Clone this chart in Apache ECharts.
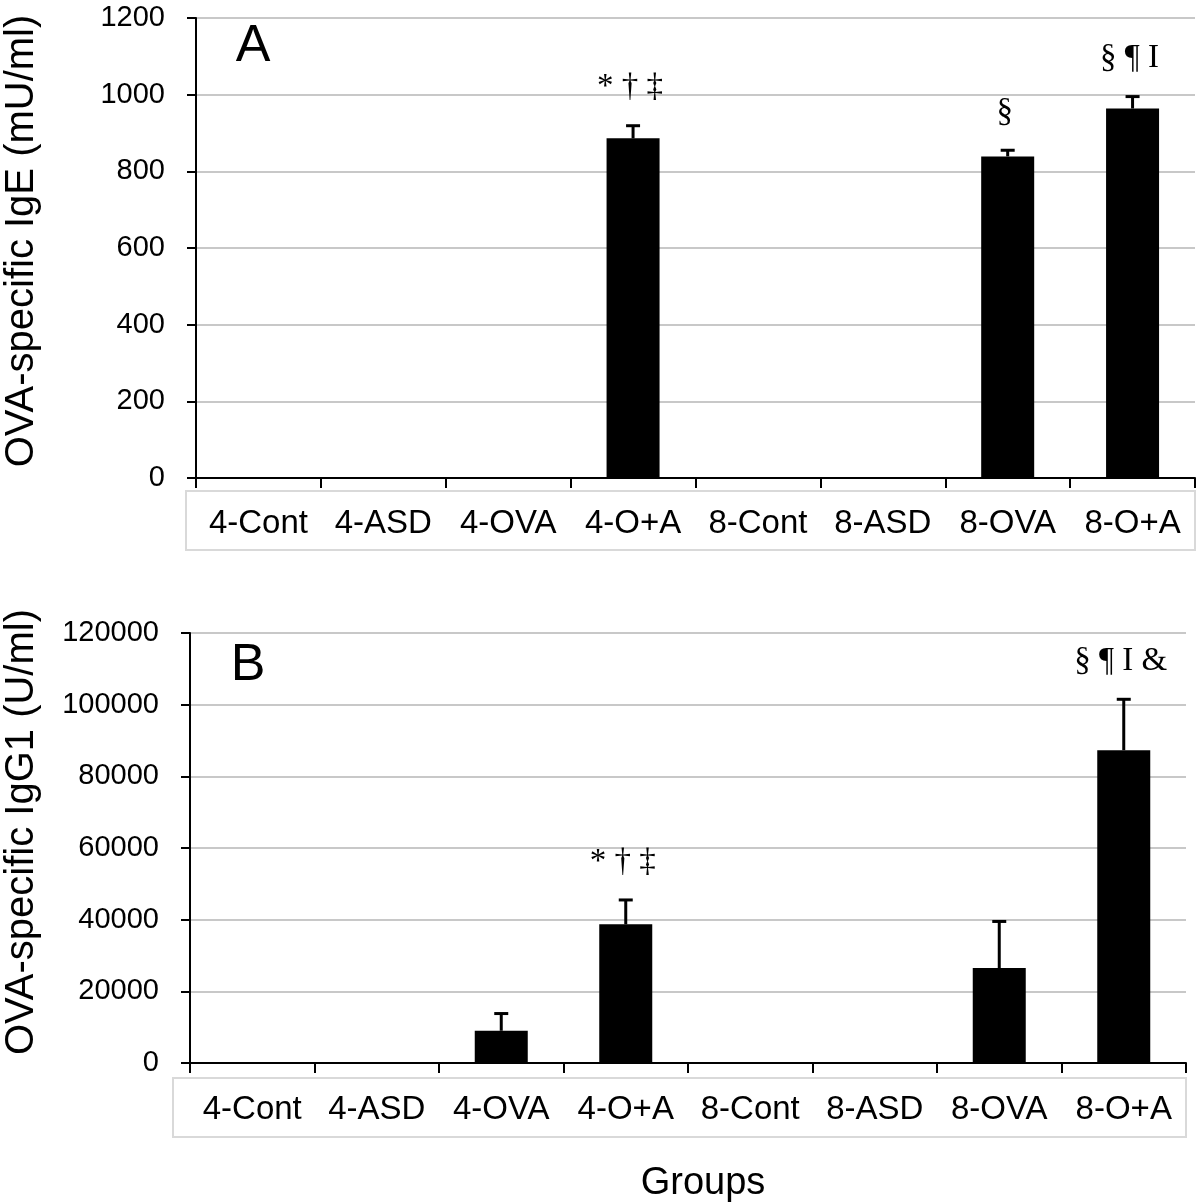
<!DOCTYPE html>
<html>
<head>
<meta charset="utf-8">
<script src="https://cdn.jsdelivr.net/npm/echarts@6/dist/echarts.min.js"></script>
<style>html,body{margin:0;padding:0;background:#fff}#c{width:1200px;height:1204px}</style>
</head>
<body>
<div id="c"></div>
<script>
const categories = ['4-Cont','4-ASD','4-OVA','4-O+A','8-Cont','8-ASD','8-OVA','8-O+A'];
const igeValues = [0,0,0,886,0,0,839,964];
const igeErrors = [0,0,0,33,0,0,16,31];
const igeMarks = ['','','','* \u2020 \u2021','','','\u00a7','\u00a7 \u00b6 I'];
const igg1Values = [0,0,9000,38700,0,0,26500,87300];
const igg1Errors = [0,0,4800,6800,0,0,13000,14200];
const igg1Marks = ['','','','* \u2020 \u2021','','','','\u00a7 \u00b6 I &'];
const igeTicks = {min:0,max:1200,interval:200};
const igg1Ticks = {min:0,max:120000,interval:20000};

const sans = 'Liberation Sans, Arial, sans-serif';
const serif = 'Liberation Serif, Times New Roman, serif';

function errData(vals, errs){
  return vals.map((v,i)=>[i, v, errs[i]]);
}
function makeRender(marks){
  return function(params, api){
    const i = api.value(0), v = api.value(1), e = api.value(2);
    const mark = marks[params.dataIndex];
    const children = [];
    const base = api.coord([i, v]);
    const top = api.coord([i, v + e]);
    if (e > 0) {
      children.push({type:'line', shape:{x1:base[0],y1:base[1],x2:top[0],y2:top[1]}, style:{stroke:'#000',lineWidth:3}});
      children.push({type:'line', shape:{x1:top[0]-7,y1:top[1],x2:top[0]+7,y2:top[1]}, style:{stroke:'#000',lineWidth:3}});
    }
    if (mark) {
      children.push({type:'text', x: top[0]-3, y: top[1]-38, style:{text:mark, fill:'#000', font:'33px '+serif, align:'center', verticalAlign:'middle'}});
    }
    return {type:'group', children};
  };
}

function xAxis(gridIndex, margin){
  return {
    type:'category', gridIndex, data:categories,
    axisLine:{show:true, onZero:false, lineStyle:{color:'#000', width:2}},
    axisTick:{show:true, alignWithLabel:false, length:10, lineStyle:{color:'#000', width:2}},
    axisLabel:{color:'#000', fontSize:33, fontFamily:sans, margin, interval:0},
    splitLine:{show:false}
  };
}
function yAxis(gridIndex, ticks, margin){
  return {
    type:'value', gridIndex, min:ticks.min, max:ticks.max, interval:ticks.interval,
    axisLine:{show:true, lineStyle:{color:'#000', width:2}},
    axisTick:{show:true, length:9, lineStyle:{color:'#000', width:2}},
    axisLabel:{color:'#000', fontSize:29, fontFamily:sans, margin, formatter:(v)=>String(v)},
    splitLine:{show:true, lineStyle:{color:'#c8c8c8', width:2}}
  };
}

const chart = echarts.init(document.getElementById('c'), null, {renderer:'canvas'});
chart.setOption({
  animation:false,
  backgroundColor:'#fff',
  grid:[
    {left:196, right:5, top:18, bottom:726, outerBoundsMode:'none', containLabel:false},
    {left:190, right:14, top:633, bottom:141, outerBoundsMode:'none', containLabel:false}
  ],
  xAxis:[xAxis(0, 29), xAxis(1, 30)],
  yAxis:[yAxis(0, igeTicks, 31), yAxis(1, igg1Ticks, 31)],
  graphic:[
    {type:'rect', shape:{x:186,y:491,width:1009,height:59}, style:{fill:'none', stroke:'#d9d9d9', lineWidth:2}, z:-1},
    {type:'rect', shape:{x:173,y:1078,width:1013,height:59}, style:{fill:'none', stroke:'#d9d9d9', lineWidth:2}, z:-1},
    {type:'text', x:253, y:47, style:{text:'A', font:'52px '+sans, fill:'#000', align:'center', verticalAlign:'middle'}},
    {type:'text', x:248, y:666, style:{text:'B', font:'52px '+sans, fill:'#000', align:'center', verticalAlign:'middle'}},
    {type:'text', x:703, y:1184, style:{text:'Groups', font:'38px '+sans, fill:'#000', align:'center', verticalAlign:'middle'}},
    {type:'text', x:22, y:241, rotation:Math.PI/2, style:{text:'OVA-specific IgE (mU/ml)', font:'40px '+sans, fill:'#000', align:'center', verticalAlign:'middle'}},
    {type:'text', x:22, y:832, rotation:Math.PI/2, style:{text:'OVA-specific IgG1 (U/ml)', font:'40px '+sans, fill:'#000', align:'center', verticalAlign:'middle'}}
  ],
  series:[
    {type:'bar', xAxisIndex:0, yAxisIndex:0, data:igeValues, barWidth:53, itemStyle:{color:'#000'}},
    {type:'custom', xAxisIndex:0, yAxisIndex:0, data:errData(igeValues, igeErrors), renderItem:makeRender(igeMarks), z:5},
    {type:'bar', xAxisIndex:1, yAxisIndex:1, data:igg1Values, barWidth:53, itemStyle:{color:'#000'}},
    {type:'custom', xAxisIndex:1, yAxisIndex:1, data:errData(igg1Values, igg1Errors), renderItem:makeRender(igg1Marks), z:5}
  ]
});
</script>
</body>
</html>
